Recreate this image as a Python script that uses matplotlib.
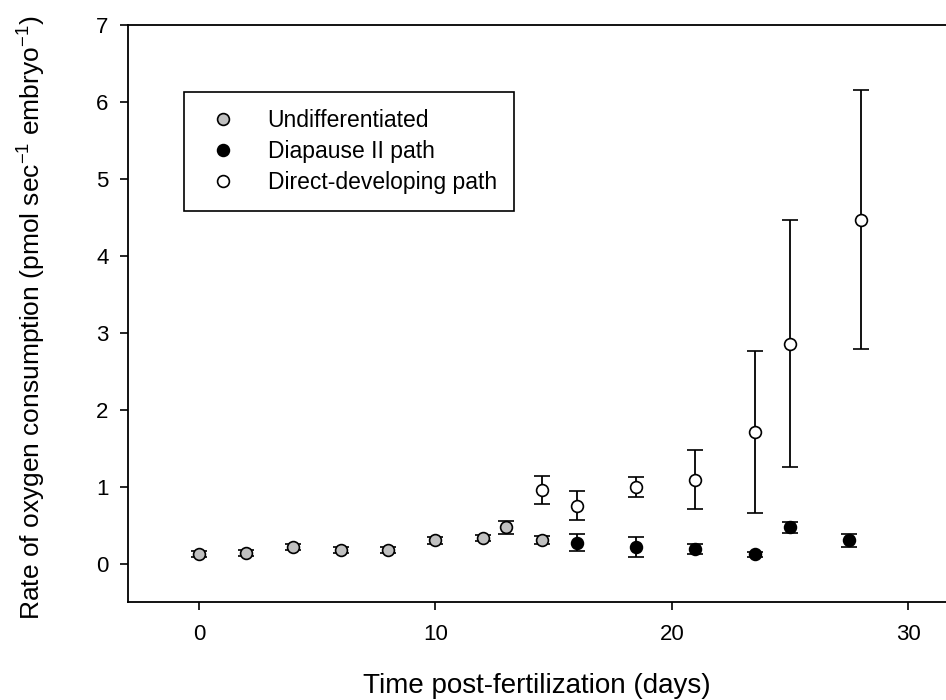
import numpy as np
import matplotlib
matplotlib.use("Agg")
import matplotlib.pyplot as plt

plt.rcParams['font.family'] = ['Liberation Sans', 'DejaVu Sans']
plt.rcParams['mathtext.fontset'] = 'custom'
plt.rcParams['mathtext.rm'] = 'Liberation Sans'
plt.rcParams['mathtext.it'] = 'Liberation Sans:italic'

# undifferentiated embryos
undiff_day = [0, 2, 4, 6, 8, 10, 12, 13, 14.5]
undiff_rate = [0.12, 0.14, 0.22, 0.18, 0.18, 0.30, 0.33, 0.47, 0.31]
undiff_err = [0.04, 0.04, 0.04, 0.04, 0.04, 0.04, 0.04, 0.08, 0.05]

# diapause II path
diap_day = [16, 18.5, 21, 23.5, 25, 27.5]
diap_rate = [0.27, 0.21, 0.19, 0.12, 0.47, 0.30]
diap_err = [0.11, 0.13, 0.07, 0.03, 0.07, 0.09]

# direct-developing path
direct_day = [14.5, 16, 18.5, 21, 23.5, 25, 28]
direct_rate = [0.96, 0.75, 1.00, 1.09, 1.71, 2.86, 4.47]
direct_err = [0.18, 0.19, 0.13, 0.38, 1.05, 1.60, 1.68]

fig = plt.figure(figsize=(9.46, 7), dpi=100)
ax = fig.add_axes([128 / 946, 98 / 700, 818 / 946, 577 / 700])

common = dict(fmt='o', ms=8.5, mec='black', mew=1.2, ecolor='black',
              elinewidth=1.3, capsize=6, capthick=1.3, linestyle='none')
ax.errorbar(undiff_day, undiff_rate, yerr=undiff_err, mfc='#c0c0c0',
            label='Undifferentiated', **common)
ax.errorbar(diap_day, diap_rate, yerr=diap_err, mfc='black',
            label='Diapause II path', **common)
ax.errorbar(direct_day, direct_rate, yerr=direct_err, mfc='white',
            label='Direct-developing path', **common)

ax.set_xlim(-3, 31.6)
ax.set_ylim(-0.5, 7)
ax.set_xticks([0, 10, 20, 30])
ax.set_yticks(range(0, 8))
ax.spines['right'].set_visible(False)
for s in ['left', 'bottom', 'top']:
    ax.spines[s].set_linewidth(1.3)
ax.tick_params(axis='both', direction='out', length=6, width=1.2, labelsize=16)
ax.tick_params(axis='x', pad=10)
ax.tick_params(axis='y', pad=8)

ax.set_xlabel('Time post-fertilization (days)', fontsize=20, labelpad=20)
fig.text(32 / 946, 1 - 318 / 700,
         'Rate of oxygen consumption (pmol sec$^{-1}$ embryo$^{-1}$)',
         rotation=90, fontsize=19, ha='center', va='center')

# legend handles without error bars
handles, labels = ax.get_legend_handles_labels()
handles = [h[0] for h in handles]
leg = ax.legend(handles, labels, loc='upper left',
                bbox_to_anchor=((184 - 128) / 818, (602 - 92) / 577),
                borderaxespad=0, fontsize=16.5, frameon=True, fancybox=False,
                edgecolor='black', framealpha=1, borderpad=0.75,
                handlelength=1.9, handletextpad=1.0, labelspacing=0.35)
leg.get_frame().set_linewidth(1.2)

fig.savefig('out.png', dpi=100)
